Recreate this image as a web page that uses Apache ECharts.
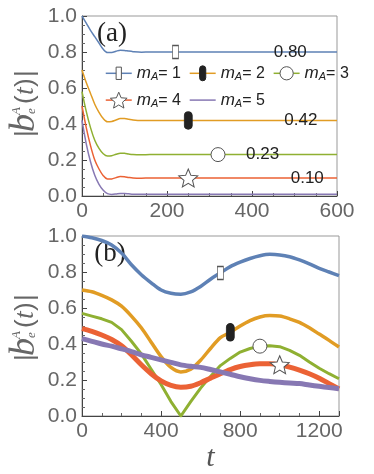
<!DOCTYPE html>
<html>
<head>
<meta charset="utf-8">
<script src="https://cdn.jsdelivr.net/npm/echarts@6/dist/echarts.min.js"></script>
<style>
  html, body { margin: 0; padding: 0; background: #fff; }
  #chart { width: 374px; height: 474px; }
</style>
</head>
<body>
<div id="chart"></div>
<script>
// panel (a): decay to the steady values
var tA = [0, 10, 20, 30, 40, 50, 60, 70, 80, 90, 100, 110, 120, 140, 160, 200, 220, 250, 320, 400, 500, 600];
var blueA   = [1.00, 0.96, 0.92, 0.885, 0.85, 0.815, 0.797, 0.797, 0.804, 0.81, 0.809, 0.805, 0.802, 0.799, 0.80, 0.80, 0.80, 0.80, 0.80, 0.80, 0.80, 0.80];
var orangeA = [0.70, 0.63, 0.57, 0.51, 0.465, 0.43, 0.412, 0.414, 0.422, 0.43, 0.43, 0.426, 0.422, 0.419, 0.42, 0.42, 0.42, 0.42, 0.42, 0.42, 0.42, 0.42];
var greenA  = [0.58, 0.47, 0.38, 0.31, 0.265, 0.235, 0.222, 0.224, 0.232, 0.238, 0.237, 0.233, 0.23, 0.229, 0.23, 0.23, 0.23, 0.23, 0.23, 0.23, 0.23, 0.23];
var redA    = [0.50, 0.38, 0.28, 0.20, 0.15, 0.113, 0.094, 0.095, 0.102, 0.108, 0.107, 0.103, 0.10, 0.099, 0.10, 0.10, 0.10, 0.10, 0.10, 0.10, 0.10, 0.10];
var purpleA = [0.42, 0.29, 0.19, 0.115, 0.065, 0.032, 0.013, 0.009, 0.011, 0.014, 0.014, 0.012, 0.01, 0.01, 0.01, 0.01, 0.01, 0.01, 0.01, 0.01, 0.01, 0.01];
var steadyA = [0.80, 0.42, 0.23, 0.10];
var noteT   = [490, 515, 425, 530];
var markIdxA = [16, 17, 18, 17];

// panel (b), every 50
var tB = [0, 50, 100, 150, 200, 250, 300, 350, 400, 450, 500, 550, 600, 650, 700, 750, 800, 850, 900, 950, 1000, 1050, 1100, 1150, 1200, 1250, 1300];
var blueB   = [1.00, 0.99, 0.975, 0.95, 0.905, 0.84, 0.785, 0.74, 0.70, 0.682, 0.677, 0.69, 0.72, 0.76, 0.795, 0.83, 0.855, 0.875, 0.89, 0.898, 0.895, 0.885, 0.867, 0.845, 0.82, 0.80, 0.78];
var orangeB = [0.70, 0.69, 0.67, 0.645, 0.61, 0.555, 0.49, 0.41, 0.33, 0.27, 0.245, 0.26, 0.31, 0.375, 0.435, 0.465, 0.50, 0.53, 0.55, 0.558, 0.555, 0.54, 0.52, 0.49, 0.455, 0.42, 0.383];
var greenB  = [0.57, 0.555, 0.54, 0.52, 0.48, 0.415, 0.345, 0.26, 0.175, 0.08, 0.0, 0.08, 0.155, 0.22, 0.28, 0.32, 0.355, 0.375, 0.388, 0.39, 0.385, 0.365, 0.337, 0.30, 0.265, 0.235, 0.207];
var redB    = [0.485, 0.47, 0.45, 0.425, 0.39, 0.34, 0.285, 0.235, 0.195, 0.17, 0.16, 0.165, 0.185, 0.21, 0.235, 0.258, 0.275, 0.285, 0.29, 0.29, 0.285, 0.272, 0.255, 0.235, 0.21, 0.18, 0.15];
var purpleB = [0.43, 0.415, 0.40, 0.388, 0.373, 0.358, 0.34, 0.326, 0.312, 0.298, 0.284, 0.276, 0.27, 0.258, 0.245, 0.232, 0.218, 0.207, 0.198, 0.192, 0.187, 0.183, 0.18, 0.172, 0.165, 0.158, 0.152];
var markIdxB = [14, 15, 18, 20];

var colors = ['#5E81B5', '#E19C24', '#8FB032', '#EB6235', '#8778B3'];
var sans = '"Liberation Sans", Arial, sans-serif';
var serif = '"Liberation Serif", "Times New Roman", serif';

// marker shapes (legend versions are padded to a square box)
var rectPath = 'path://M0 0M20 20M7 3h6v14h-6z';
var pillPath = 'path://M0 0M20 20M6.5 5a3.5 3.5 0 0 1 7 0v10a3.5 3.5 0 0 1 -7 0z';
var circPath = 'path://M0 0M20 20M10 2.5a7.5 7.5 0 1 1 0 15a7.5 7.5 0 1 1 0 -15z';
var starPath = 'path://M0 0M20 20M10 1L12.65 7.36L19.51 7.91L14.28 12.39L15.88 19.09L10 15.5L4.12 19.09L5.72 12.39L0.49 7.91L7.35 7.36Z';
var starMark = 'path://M10 0L12.65 6.36L19.51 6.91L14.28 11.39L15.88 18.09L10 14.5L4.12 18.09L5.72 11.39L0.49 6.91L7.35 6.36Z';
var pillMark = 'path://M0 3.5a3.5 3.5 0 0 1 7 0v10a3.5 3.5 0 0 1 -7 0z';

var openStyle = { color: '#fff', borderColor: '#555', borderWidth: 1 };
var marks = [
  { symbol: 'rect', size: [6, 13], style: openStyle },
  { symbol: pillMark, size: [8, 17], style: { color: '#222', borderColor: '#222', borderWidth: 1 } },
  { symbol: 'circle', size: 14, style: openStyle },
  { symbol: starMark, size: [19, 18], style: openStyle }
];
var legendSymbols = [rectPath, pillPath, circPath, starPath, 'none'];

function pt(t, v, i) { return [t[i], v[i]]; }

function axisX(grid, max, interval) {
  return {
    type: 'value', gridIndex: grid, min: 0, max: max, interval: interval,
    axisLine: { show: true, onZero: false, lineStyle: { color: '#444', width: 1 } },
    axisTick: { show: true, inside: true, length: 5, lineStyle: { color: '#444' } },
    minorTick: { show: true, splitNumber: 4, length: 3, lineStyle: { color: '#666' } },
    splitLine: { show: false },
    axisLabel: { fontSize: 21, color: '#666', fontFamily: sans, margin: 5, showMaxLabel: max === 600,
      formatter: function (v) { return String(v); } }
  };
}
function axisY(grid) {
  return {
    type: 'value', gridIndex: grid, min: 0, max: 1, interval: 0.2,
    axisLine: { show: true, lineStyle: { color: '#444', width: 1 } },
    axisTick: { show: true, inside: true, length: 5, lineStyle: { color: '#444' } },
    minorTick: { show: true, splitNumber: 4, length: 3, lineStyle: { color: '#666' } },
    splitLine: { show: false },
    axisLabel: { fontSize: 21, color: '#666', fontFamily: sans, margin: 5,
      formatter: function (v) { return v.toFixed(1); } }
  };
}

function yLabel(cx, cy) {
  var g = '#666';
  return {
    type: 'group', x: cx, y: cy, rotation: Math.PI / 2,
    children: [
      { type: 'text', x: -33, y: 0, style: { text: '|', fontSize: 26, fontFamily: sans, fill: g, verticalAlign: 'middle' } },
      { type: 'text', x: -28, y: -1, style: { text: 'b', fontSize: 36, fontFamily: serif, fontStyle: 'italic', fill: g, verticalAlign: 'middle' } },
      { type: 'text', x: -11, y: -9, style: { text: 'A', fontSize: 13, fontFamily: serif, fontStyle: 'italic', fill: g, verticalAlign: 'middle' } },
      { type: 'text', x: -10, y: 6, style: { text: 'e', fontSize: 13, fontFamily: serif, fontStyle: 'italic', fill: g, verticalAlign: 'middle' } },
      { type: 'text', x: 0, y: 0, style: { text: '(', fontSize: 26, fontFamily: sans, fill: g, verticalAlign: 'middle' } },
      { type: 'text', x: 9, y: 0, style: { text: 't', fontSize: 28, fontFamily: serif, fontStyle: 'italic', fill: g, verticalAlign: 'middle' } },
      { type: 'text', x: 17, y: 0, style: { text: ')', fontSize: 26, fontFamily: sans, fill: g, verticalAlign: 'middle' } },
      { type: 'text', x: 27, y: 0, style: { text: '|', fontSize: 26, fontFamily: sans, fill: g, verticalAlign: 'middle' } }
    ]
  };
}

var seriesA = [blueA, orangeA, greenA, redA, purpleA];
var seriesB = [blueB, orangeB, greenB, redB, purpleB];
var series = [];

seriesA.forEach(function (vals, k) {
  var mp = [];
  if (k < 4) {
    var m = marks[k];
    mp.push({ coord: pt(tA, vals, markIdxA[k]), symbol: m.symbol, symbolSize: m.size, itemStyle: m.style });
    mp.push({ coord: [noteT[k], steadyA[k]], symbol: 'circle', symbolSize: 0,
      label: { show: true, position: 'inside', formatter: steadyA[k].toFixed(2), color: '#222', fontSize: 17, fontFamily: sans } });
  }
  series.push({
    name: 'a' + (k + 1), type: 'line', xAxisIndex: 0, yAxisIndex: 0,
    data: tA.map(function (t, i) { return [t, vals[i]]; }),
    smooth: 0.3, showSymbol: false, symbol: legendSymbols[k],
    lineStyle: { color: colors[k], width: 1.5 },
    itemStyle: { color: colors[k] },
    markPoint: { silent: true, animation: false, label: { show: false }, data: mp }
  });
});

// green in (b) has a sharp zero at t~500, so it is not smoothed
var widthsB = [3.5, 3.5, 3, 5, 5];
var smoothB = [0.3, 0.3, false, 0.3, 0.3];
seriesB.forEach(function (vals, k) {
  var mp = [];
  if (k < 4) {
    var m = marks[k];
    mp.push({ coord: pt(tB, vals, markIdxB[k]), symbol: m.symbol, symbolSize: m.size, itemStyle: m.style });
  }
  series.push({
    name: 'b' + (k + 1), type: 'line', xAxisIndex: 1, yAxisIndex: 1,
    data: tB.map(function (t, i) { return [t, vals[i]]; }),
    smooth: smoothB[k], showSymbol: false, symbol: 'none',
    lineStyle: { color: colors[k], width: widthsB[k], join: 'round' },
    itemStyle: { color: colors[k] },
    markPoint: { silent: true, animation: false, label: { show: false }, data: mp }
  });
});

var legendItemStyles = [
  openStyle,
  { color: '#222', borderColor: '#222', borderWidth: 1 },
  openStyle,
  openStyle,
  { color: 'transparent', borderWidth: 0 }
];

var chart = echarts.init(document.getElementById('chart'), null, { renderer: 'canvas' });
var option = {
  animation: false,
  backgroundColor: '#fff',
  grid: [
    { left: 82, right: 37, top: 16, height: 180, show: true, borderColor: '#999', borderWidth: 1, backgroundColor: 'transparent' },
    { left: 82, right: 35, top: 236, height: 180, show: true, borderColor: '#999', borderWidth: 1, backgroundColor: 'transparent' }
  ],
  xAxis: [
    axisX(0, 600, 200),
    Object.assign(axisX(1, 1300, 400), {
      name: 't', nameLocation: 'middle', nameGap: 18,
      nameTextStyle: { fontFamily: serif, fontStyle: 'italic', fontSize: 30, color: '#555' }
    })
  ],
  yAxis: [axisY(0), axisY(1)],
  legend: {
    left: 100, top: 59, width: 250,
    itemWidth: 26, itemHeight: 22, itemGap: 8,
    lineStyle: { width: 1.5 },
    data: seriesA.map(function (v, k) { return { name: 'a' + (k + 1), itemStyle: legendItemStyles[k] }; }),
    formatter: function (name) { return '{m|m}{s|A}{e|= ' + name.slice(1) + '}'; },
    textStyle: {
      color: '#222', fontFamily: sans,
      rich: {
        m: { fontSize: 17, fontStyle: 'italic', fontFamily: sans, color: '#222' },
        s: { fontSize: 11, fontStyle: 'italic', fontFamily: sans, color: '#222', padding: [8, 0, 0, 0] },
        e: { fontSize: 16, fontFamily: sans, color: '#222' }
      }
    }
  },
  graphic: [
    { type: 'text', x: 112, y: 34, style: { text: '(a)', fontSize: 27, fontFamily: serif, fill: '#222', align: 'center', verticalAlign: 'middle' } },
    { type: 'text', x: 110, y: 254, style: { text: '(b)', fontSize: 27, fontFamily: serif, fill: '#222', align: 'center', verticalAlign: 'middle' } },
    yLabel(26, 104),
    yLabel(26, 328)
  ],
  series: series
};
chart.setOption(option);
</script>
</body>
</html>
